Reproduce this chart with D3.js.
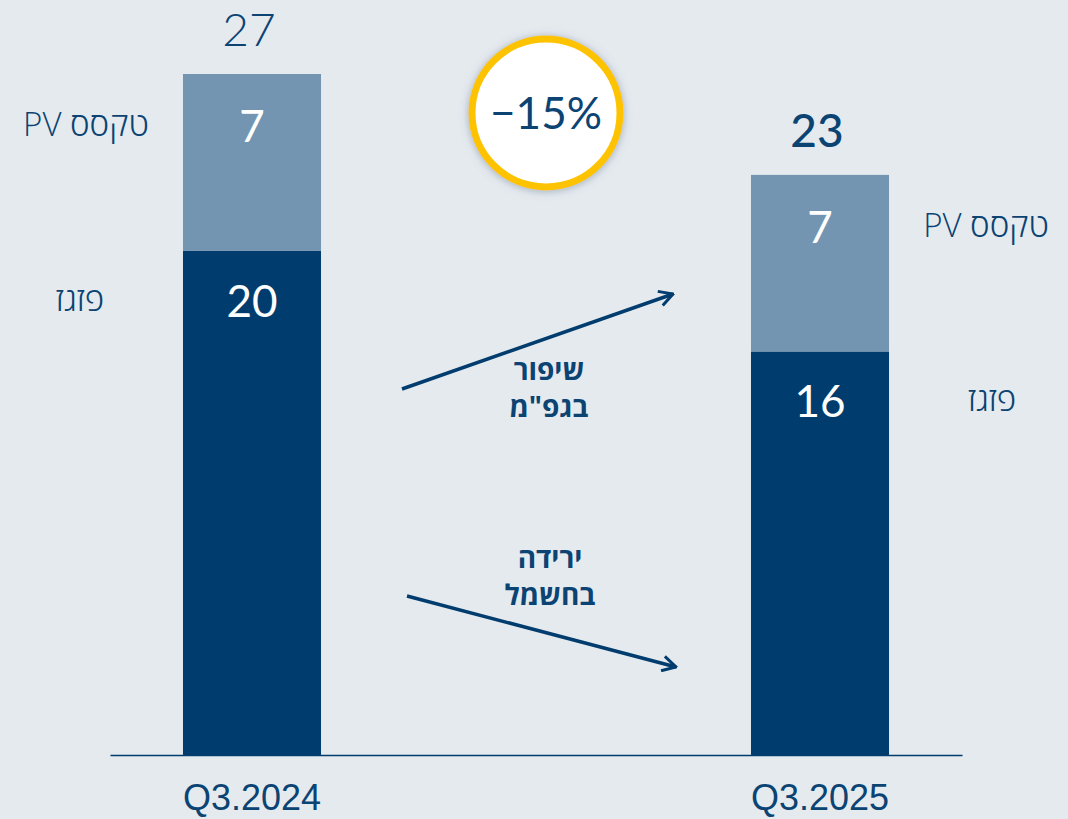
<!DOCTYPE html>
<html>
<head>
<meta charset="utf-8">
<script src="https://cdn.jsdelivr.net/npm/d3@7"></script>
<style>
  html, body { margin: 0; padding: 0; background: #e5eaef; }
  svg { display: block; }
</style>
</head>
<body>
<div id="chart"></div>
<script>
// data
const periods = ['Q3.2024', 'Q3.2025']
const gasValues = [20, 16]
const pvValues = [7, 7]
const seriesNames = ['פזגז', 'PV טקסס']
const driverLabels = [['שיפור', 'בגפ"מ'], ['ירידה', 'בחשמל']]

const W = 1068, H = 819
const navy = '#003d6e'
const lightBlue = '#7395b2'
const textNavy = '#0b4372'

const totals = periods.map((p, i) => gasValues[i] + pvValues[i])

const svg = d3.select('#chart').append('svg')
  .attr('width', W)
  .attr('height', H)

svg.append('rect').attr('width', W).attr('height', H).attr('fill', '#e5eaef')

const x = d3.scaleBand()
  .domain(periods)
  .range([110, 962])
  .paddingInner(0.757)
  .paddingOuter(0.1285)

const y = d3.scaleLinear()
  .domain([0, d3.max(totals)])
  .range([755, 74])

const rows = periods.map((p, i) => ({ period: p, gas: gasValues[i], pv: pvValues[i], total: totals[i], i }))

// bars
const g = svg.append('g')
g.selectAll('rect.gas')
  .data(rows)
  .enter().append('rect')
  .attr('class', 'gas')
  .attr('x', d => x(d.period))
  .attr('width', x.bandwidth())
  .attr('y', d => y(d.gas))
  .attr('height', d => y(0) - y(d.gas))
  .attr('fill', navy)

g.selectAll('rect.pv')
  .data(rows)
  .enter().append('rect')
  .attr('class', 'pv')
  .attr('x', d => x(d.period))
  .attr('width', x.bandwidth())
  .attr('y', d => y(d.total))
  .attr('height', d => y(d.gas) - y(d.total))
  .attr('fill', lightBlue)

// axis line + category labels
const xAxis = d3.axisBottom(x).tickSize(0).tickPadding(29)
const ax = svg.append('g')
  .attr('transform', `translate(0, ${y(0)})`)
  .call(xAxis)
ax.select('.domain').attr('stroke', navy).attr('stroke-width', 1.5)
ax.selectAll('.tick text')
  .attr('fill', textNavy)
  .attr('font-family', '"Liberation Sans", sans-serif')
  .attr('font-size', 37)
  .attr('textLength', 138)
  .attr('lengthAdjust', 'spacingAndGlyphs')
  .attr('dy', '0.71em')

const numFont = 'Lato, "Open Sans", sans-serif'
const hebFont = '"Open Sans", "DejaVu Sans", sans-serif'

// value labels inside segments
g.selectAll('text.gasval')
  .data(rows)
  .enter().append('text')
  .attr('x', d => x(d.period) + x.bandwidth() / 2)
  .attr('y', d => y(d.gas) + 66)
  .attr('text-anchor', 'middle')
  .attr('fill', '#fff')
  .attr('font-family', numFont)
  .attr('font-size', 44)
  .text(d => d.gas)

g.selectAll('text.pvval')
  .data(rows)
  .enter().append('text')
  .attr('x', d => x(d.period) + x.bandwidth() / 2)
  .attr('y', d => y(d.total) + 68)
  .attr('text-anchor', 'middle')
  .attr('fill', '#fff')
  .attr('font-family', numFont)
  .attr('font-size', 44)
  .text(d => d.pv)

// totals
g.selectAll('text.total')
  .data(rows)
  .enter().append('text')
  .attr('x', d => x(d.period) + x.bandwidth() / 2 - 3)
  .attr('y', d => y(d.total) - 28)
  .attr('text-anchor', 'middle')
  .attr('fill', textNavy)
  .attr('font-family', numFont)
  .attr('font-weight', d => d.i === 0 ? 300 : 500)
  .attr('font-size', 46)
  .text(d => d.total)

// series names beside each bar (left of first, right of second)
const sideX = d => d.i === 0 ? x(d.period) - 97 : x(d.period) + x.bandwidth() + 97
g.selectAll('text.pvname')
  .data(rows)
  .enter().append('text')
  .attr('x', sideX)
  .attr('y', d => y(d.total) + 62)
  .attr('text-anchor', 'middle')
  .attr('fill', textNavy)
  .attr('font-family', hebFont)
  .attr('font-weight', 300)
  .attr('font-size', 33)
  .text(seriesNames[1])

g.selectAll('text.gasname')
  .data(rows)
  .enter().append('text')
  .attr('x', d => sideX(d) + (d.i === 0 ? -6 : 6))
  .attr('y', d => y(d.gas) + 60)
  .attr('text-anchor', 'middle')
  .attr('fill', textNavy)
  .attr('font-family', hebFont)
  .attr('font-weight', 300)
  .attr('font-size', 33)
  .text(seriesNames[0])

// change badge
const change = Math.round((totals[1] - totals[0]) / totals[0] * 100)
const defs = svg.append('defs')
const shadow = defs.append('filter').attr('id', 'shadow')
  .attr('x', '-30%').attr('y', '-30%').attr('width', '160%').attr('height', '160%')
shadow.append('feDropShadow')
  .attr('dx', 0).attr('dy', 1).attr('stdDeviation', 4)
  .attr('flood-color', '#6b7b8c').attr('flood-opacity', 0.55)

const badge = svg.append('g').attr('transform', 'translate(546, 113)')
badge.append('circle')
  .attr('r', 74)
  .attr('fill', '#fff')
  .attr('stroke', '#fdc300')
  .attr('stroke-width', 7)
  .attr('filter', 'url(#shadow)')
badge.append('text')
  .attr('text-anchor', 'middle')
  .attr('y', 16)
  .attr('fill', textNavy)
  .attr('font-family', numFont)
  .attr('font-size', 44)
  .text(`${change < 0 ? '\u2212' : '+'}${Math.abs(change)}%`)

// driver arrows
defs.append('marker')
  .attr('id', 'head')
  .attr('viewBox', '0 0 12 12')
  .attr('refX', 11).attr('refY', 6)
  .attr('markerWidth', 18).attr('markerHeight', 18)
  .attr('markerUnits', 'userSpaceOnUse')
  .attr('orient', 'auto')
  .append('path')
  .attr('d', 'M2,1 L11,6 L2,11')
  .attr('fill', 'none')
  .attr('stroke', navy)
  .attr('stroke-width', 2)

const arrows = [
  { x1: 402, y1: 389, x2: 673, y2: 294, tx: 549, ty: 380 },
  { x1: 407, y1: 596, x2: 676, y2: 667, tx: 550, ty: 568 }
]
arrows.forEach((a, i) => {
  svg.append('line')
    .attr('x1', a.x1).attr('y1', a.y1)
    .attr('x2', a.x2).attr('y2', a.y2)
    .attr('stroke', navy)
    .attr('stroke-width', 3.5)
    .attr('marker-end', 'url(#head)')
  const t = svg.append('text')
    .attr('text-anchor', 'middle')
    .attr('fill', textNavy)
    .attr('font-family', hebFont)
    .attr('font-weight', 700)
    .attr('font-size', 28)
  driverLabels[i].forEach((line, k) => {
    t.append('tspan')
      .attr('x', a.tx)
      .attr('y', a.ty + k * 37)
      .text(line)
  })
})
</script>
</body>
</html>
